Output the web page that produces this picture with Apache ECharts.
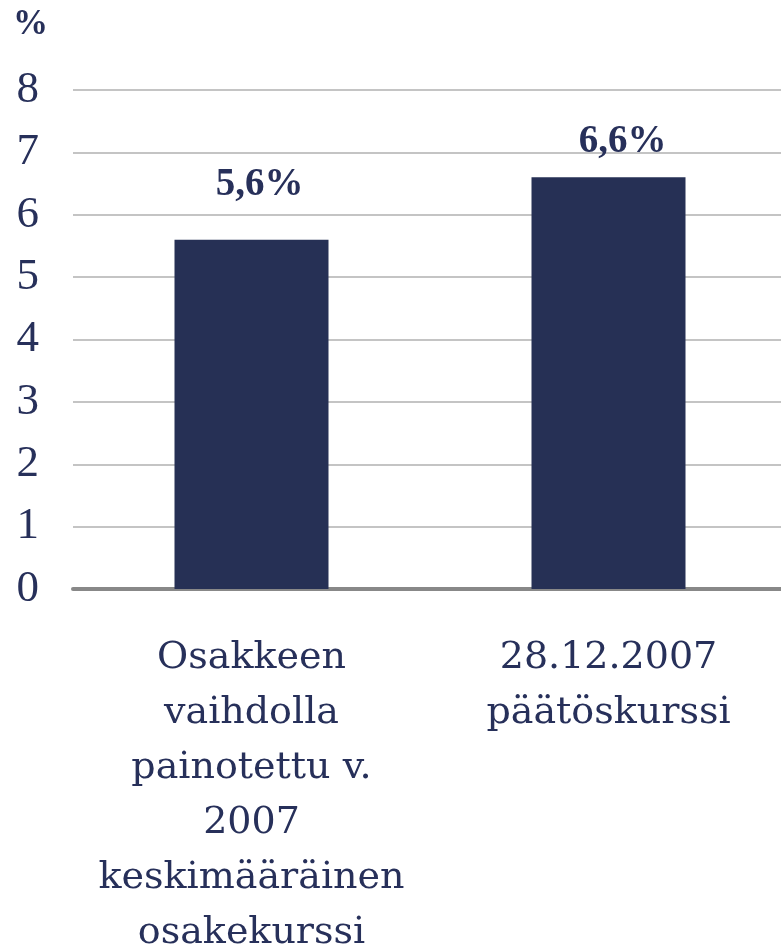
<!DOCTYPE html>
<html>
<head>
<meta charset="utf-8">
<script src="https://cdn.jsdelivr.net/npm/echarts@6/dist/echarts.min.js"></script>
<style>html,body{margin:0;padding:0;background:#fff}#c{width:781px;height:946px}</style>
</head>
<body>
<div id="c"></div>
<script>
const categories = ["Osakkeen\nvaihdolla\npainotettu v.\n2007\nkeskimääräinen\nosakekurssi", "28.12.2007\npäätöskurssi"];
const values = [5.6, 6.6];
const valueLabels = ["5,6%", "6,6%"];
const yTicks = [0, 1, 2, 3, 4, 5, 6, 7, 8];
const unitLabel = "%";

// layout only: label nudges as placed in the original
const labelOffsets = [[8, -19], [14, 0]];

const navy = "#27305a";
const font = "Liberation Serif";
const wideFont = "DejaVu Serif";

function render() {
  const chart = echarts.init(document.getElementById('c'));
  chart.setOption({
    animation: false,
    backgroundColor: '#fff',
    title: {
      text: unitLabel, left: 8, top: 2,
      textStyle: { fontFamily: font, fontSize: 35, fontWeight: 'bold', color: navy }
    },
    grid: { left: 73, right: -6, top: 90, bottom: 357, containLabel: false, outerBoundsMode: 'none' },
    xAxis: {
      type: 'category', data: categories,
      axisLine: { lineStyle: { color: '#888', width: 4 } },
      axisTick: { show: false },
      axisLabel: { interval: 0, margin: 42, fontFamily: wideFont, fontSize: 38, lineHeight: 55, color: navy }
    },
    yAxis: {
      type: 'value', min: yTicks[0], max: yTicks[yTicks.length - 1], interval: 1,
      axisLine: { show: false }, axisTick: { show: false },
      splitLine: { lineStyle: { color: '#b0b0b0', width: 1.5 } },
      axisLabel: { margin: 34, fontFamily: font, fontSize: 45, color: navy }
    },
    series: [{
      type: 'bar', barWidth: 154,
      data: values.map((v, i) => ({ value: v, label: { formatter: valueLabels[i], offset: labelOffsets[i] } })),
      itemStyle: { color: '#263055' },
      label: { show: true, position: 'top', distance: 16, fontFamily: font, fontSize: 39, fontWeight: 'bold', color: navy }
    }]
  });
}

if (document.fonts && document.fonts.load) {
  Promise.all([
    document.fonts.load('45px "Liberation Serif"'),
    document.fonts.load('bold 39px "Liberation Serif"'),
    document.fonts.load('38px "DejaVu Serif"')
  ]).then(render, render);
} else {
  render();
}
</script>
</body>
</html>
